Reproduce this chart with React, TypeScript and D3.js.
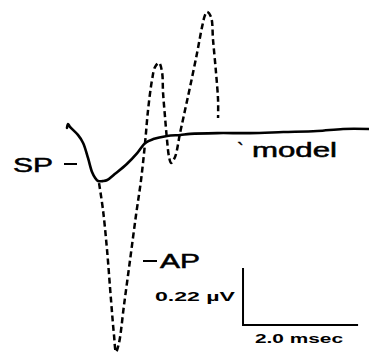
import React from "react";
import * as d3 from "d3";

// model trace (SP), time in msec, amplitude in µV
const spTime = [0, 0.017, 0.052, 0.19, 0.28, 0.365, 0.435, 0.49, 0.54, 0.63, 0.7, 0.83, 1.04, 1.22, 1.36, 1.5, 1.74, 1.97, 2.14, 2.61, 3.18, 3.76, 4.35, 4.8, 5.25];
const spVolt = [0.008, 0.023, 0.012, -0.019, -0.05, -0.108, -0.162, -0.185, -0.197, -0.197, -0.193, -0.17, -0.131, -0.089, -0.05, -0.035, -0.023, -0.019, -0.015, -0.012, -0.012, -0.008, -0.004, 0.004, 0.004];

// recorded action potential (AP), dashed
const apTime = [0.557, 0.626, 0.696, 0.765, 0.817, 0.852, 0.904, 0.991, 1.096, 1.2, 1.287, 1.357, 1.409, 1.478, 1.53, 1.6, 1.652, 1.67, 1.704, 1.739, 1.774, 1.809, 1.878, 1.965, 2.052, 2.139, 2.261, 2.348, 2.4, 2.435, 2.504, 2.539, 2.591, 2.626, 2.626];
const apVolt = [-0.205, -0.309, -0.463, -0.656, -0.792, -0.857, -0.822, -0.676, -0.502, -0.328, -0.193, -0.05, 0.077, 0.193, 0.243, 0.259, 0.224, 0.143, 0.05, -0.039, -0.104, -0.127, -0.104, -0.012, 0.077, 0.166, 0.297, 0.398, 0.444, 0.456, 0.436, 0.347, 0.22, 0.116, 0.046];

// calibration bar
const barTime = 2.0;
const barVolt = 0.22;
const barOrigin = [3.06, -0.753];

const W = 369;
const H = 356;

export default function App() {
  const x = d3.scaleLinear().domain([0, 5.25]).range([67, 369]);
  const y = d3.scaleLinear().domain([0, 0.22]).range([130, 73]);

  const line = d3
    .line<[number, number]>()
    .x((d) => x(d[0]))
    .y((d) => y(d[1]))
    .curve(d3.curveCatmullRom.alpha(0.5));

  const sp = spTime.map((t, i) => [t, spVolt[i]] as [number, number]);
  const ap = apTime.map((t, i) => [t, apVolt[i]] as [number, number]);

  const bx0 = x(barOrigin[0]);
  const by0 = y(barOrigin[1]);
  const bx1 = x(barOrigin[0] + barTime);
  const by1 = y(barOrigin[1] + barVolt);

  const font = "'Liberation Sans', Arial, sans-serif";

  return (
    <div style={{ position: "absolute", left: 0, top: 0 }}>
      <svg width={W} height={H} style={{ display: "block", background: "#fff" }}>
        <path d={line(ap) || ""} fill="none" stroke="#000" strokeWidth={2.5} strokeDasharray="6 3.5" />
        <path d={line(sp) || ""} fill="none" stroke="#000" strokeWidth={2.6} strokeLinejoin="round" strokeLinecap="round" />

        {/* calibration bar */}
        <path d={`M${bx0},${by1}V${by0}H${bx1}`} fill="none" stroke="#000" strokeWidth={2} />

        <g fontFamily={font} fill="#000">
          <text x={13} y={172} fontSize={20} stroke="#000" strokeWidth={0.5} textLength={40} lengthAdjust="spacingAndGlyphs">SP</text>
          <line x1={64} x2={77} y1={164} y2={164} stroke="#000" strokeWidth={2} />

          <text x={237} y={157} fontSize={20} stroke="#000" strokeWidth={0.4}>`</text>
          <text x={252} y={157} fontSize={20} stroke="#000" strokeWidth={0.5} textLength={85} lengthAdjust="spacingAndGlyphs">model</text>

          <line x1={143} x2={157} y1={261} y2={261} stroke="#000" strokeWidth={2} />
          <text x={160} y={268} fontSize={20} stroke="#000" strokeWidth={0.5} textLength={40} lengthAdjust="spacingAndGlyphs">AP</text>

          <text x={155} y={301} fontSize={12} fontWeight="bold" textLength={80} lengthAdjust="spacingAndGlyphs">0.22 µV</text>
          <text x={255} y={343} fontSize={12} fontWeight="bold" textLength={88} lengthAdjust="spacingAndGlyphs">2.0 msec</text>
        </g>
      </svg>
    </div>
  );
}
